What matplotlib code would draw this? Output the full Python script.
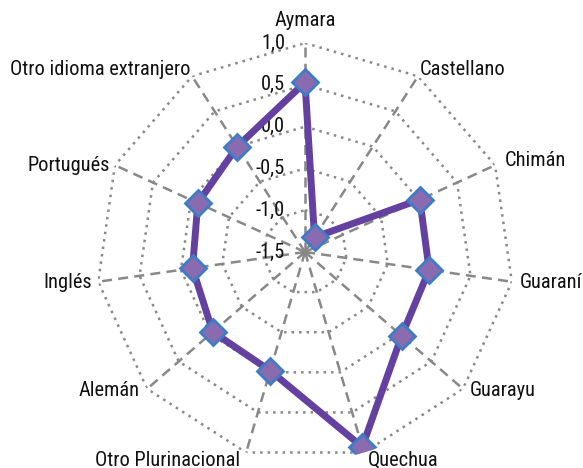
import numpy as np
import matplotlib
matplotlib.use("Agg")
import matplotlib.pyplot as plt
from matplotlib import font_manager as fm

categories = ["Aymara", "Castellano", "Chimán", "Guaraní", "Guarayu", "Quechua",
              "Otro Plurinacional", "Alemán", "Inglés", "Portugués", "Otro idioma extranjero"]
values = [0.53, -1.29, 0.01, 0.0, 0.03, 0.93, -0.02, -0.04, -0.14, -0.09, 0.0]
r_ticks = [-1.5, -1.0, -0.5, 0.0, 0.5, 1.0]
r_tick_labels = ["-1,5", "-1,0", "-0,5", "0,0", "0,5", "1,0"]

# label offsets in pixels (dx, dy, ha)
label_offsets = [(0, 23, "center"), (2, 7, "left"), (10, 5, "left"), (8, -1, "left"),
                 (7, -2, "left"), (4, -8, "left"), (-6, -8, "right"), (-7, -2, "right"),
                 (-6, -1, "right"), (-5, 0, "right"), (-2, 7, "right")]

available = {f.name for f in fm.fontManager.ttflist}
preferred = ['Liberation Sans Narrow', 'Arial Narrow', 'Arimo Narrow', 'Roboto Condensed',
             'PT Sans Narrow', 'Archivo Narrow', 'Liberation Sans']
family = [f for f in preferred if f in available][:1] + ['DejaVu Sans']
plt.rcParams['font.family'] = family

fig = plt.figure(figsize=(5.83, 4.68), dpi=100)
ax = fig.add_axes([0.1647, 0.015, 0.717, 0.893], projection='polar')
ax.set_theta_zero_location('N')
ax.set_theta_direction(-1)
ax.set_ylim(r_ticks[0], r_ticks[-1])
ax.grid(False)
ax.spines['polar'].set_visible(False)
ax.set_xticks([])
ax.set_yticks([])
ax.patch.set_visible(False)

n = len(categories)
theta = np.arange(n) * 2 * np.pi / n
theta_c = np.append(theta, theta[0])

grid_col = '#888888'
for rt in r_ticks[1:]:
    ax.plot(theta_c, [rt] * (n + 1), color=grid_col, linestyle=(0, (1, 2)), lw=1.8, zorder=1)
for t in theta:
    ax.plot([t, t], [r_ticks[0], r_ticks[-1]], color=grid_col, linestyle=(0, (4, 2.5)), lw=1.8, zorder=1)

for rt, lab in zip(r_ticks, r_tick_labels):
    ax.annotate(lab, xy=(0, rt), xytext=(-20, 0), textcoords='offset pixels',
                ha='right', va='center', fontsize=14.7, color='#111111')

for t, cat, (dx, dy, ha) in zip(theta, categories, label_offsets):
    ax.annotate(cat, xy=(t, r_ticks[-1]), xytext=(dx, dy), textcoords='offset pixels',
                ha=ha, va='center', fontsize=14.7, color='#111111', annotation_clip=False)

vals_c = np.append(values, values[0])
ax.plot(theta_c, vals_c, color='#6440A0', lw=5, zorder=3, solid_joinstyle='round')
ax.plot(theta, values, linestyle='none', marker='D', markersize=13,
        markerfacecolor='#8A6BB0', markeredgecolor='#3E7CC4', markeredgewidth=2, zorder=4)

fig.savefig('out.png', dpi=100)
